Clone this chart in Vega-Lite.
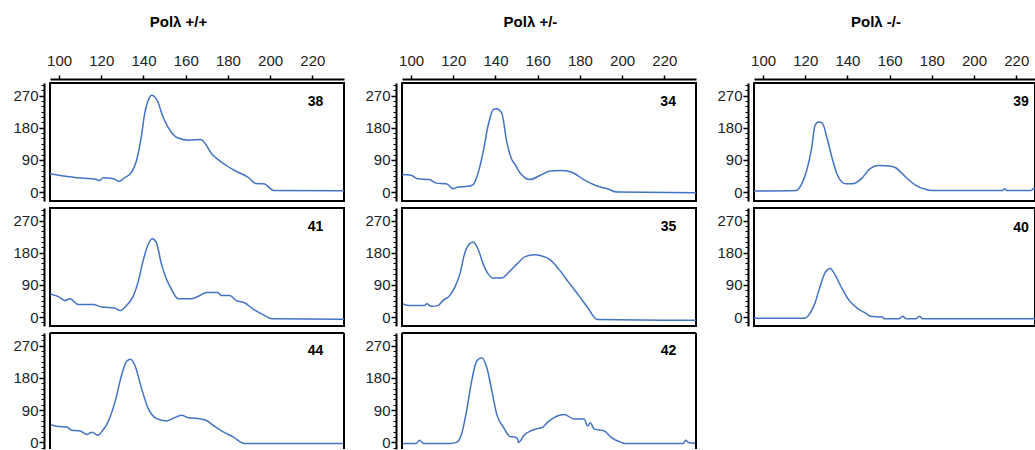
{
  "$schema": "https://vega.github.io/schema/vega-lite/v6.json",
  "padding": {"left": 11, "top": 15, "right": 0, "bottom": 0},
  "background": "white",
  "config": {
    "view": {"stroke": "black", "strokeWidth": 2, "fill": "white"},
    "font": "Liberation Sans",
    "title": {"font": "Liberation Sans", "fontSize": 15, "fontWeight": "bold", "color": "black", "anchor": "middle", "offset": 22}
  },
  "datasets": {
    "curves": [
      {"p":"38","x":95.7,"y":51},{"p":"38","x":100.5,"y":46},{"p":"38","x":108.4,"y":40},{"p":"38","x":117.8,"y":35},{"p":"38","x":119,"y":32},{"p":"38","x":121,"y":40},{"p":"38","x":125.8,"y":37},{"p":"38","x":128.5,"y":30},{"p":"38","x":131,"y":40},{"p":"38","x":134.2,"y":54},{"p":"38","x":136.6,"y":86},{"p":"38","x":138.9,"y":152},{"p":"38","x":140.5,"y":217},{"p":"38","x":142.8,"y":264},{"p":"38","x":143.8,"y":271},{"p":"38","x":145,"y":268},{"p":"38","x":146.7,"y":254},{"p":"38","x":148.8,"y":217},{"p":"38","x":151.4,"y":184},{"p":"38","x":156.1,"y":152},{"p":"38","x":161.6,"y":145},{"p":"38","x":167.1,"y":147},{"p":"38","x":172.6,"y":105},{"p":"38","x":177.3,"y":82},{"p":"38","x":183.6,"y":59},{"p":"38","x":189.9,"y":40},{"p":"38","x":193.1,"y":24},{"p":"38","x":197,"y":23},{"p":"38","x":201.7,"y":4.5},{"p":"38","x":236,"y":4},

      {"p":"41","x":95.9,"y":64.6},{"p":"41","x":99.7,"y":57},{"p":"41","x":102.8,"y":46},{"p":"41","x":105.2,"y":51},{"p":"41","x":109.1,"y":35},{"p":"41","x":116.2,"y":35},{"p":"41","x":120.2,"y":28},{"p":"41","x":126.5,"y":25},{"p":"41","x":128.8,"y":18},{"p":"41","x":131.9,"y":32},{"p":"41","x":135.1,"y":58},{"p":"41","x":137.4,"y":97},{"p":"41","x":139.8,"y":157},{"p":"41","x":142.2,"y":203},{"p":"41","x":144.2,"y":219},{"p":"41","x":146.1,"y":208},{"p":"41","x":148.5,"y":148},{"p":"41","x":150.9,"y":106},{"p":"41","x":153.2,"y":78},{"p":"41","x":156.4,"y":51},{"p":"41","x":162.7,"y":51},{"p":"41","x":166.6,"y":60},{"p":"41","x":169.8,"y":69},{"p":"41","x":175.3,"y":69},{"p":"41","x":176.9,"y":60},{"p":"41","x":180.8,"y":60},{"p":"41","x":184,"y":46},{"p":"41","x":187.9,"y":40},{"p":"41","x":191.8,"y":23},{"p":"41","x":196.6,"y":7},{"p":"41","x":201.3,"y":-5},{"p":"41","x":236,"y":-6},

      {"p":"44","x":95.7,"y":50},{"p":"44","x":99.7,"y":44},{"p":"44","x":103.6,"y":43},{"p":"44","x":106,"y":34},{"p":"44","x":110,"y":32},{"p":"44","x":113.1,"y":22},{"p":"44","x":115.5,"y":28},{"p":"44","x":118.6,"y":20},{"p":"44","x":120.2,"y":30},{"p":"44","x":123.3,"y":58},{"p":"44","x":126.5,"y":113},{"p":"44","x":129.6,"y":187},{"p":"44","x":132,"y":226},{"p":"44","x":133.9,"y":232},{"p":"44","x":135.9,"y":215},{"p":"44","x":139.1,"y":150},{"p":"44","x":142.2,"y":95},{"p":"44","x":146.1,"y":67},{"p":"44","x":150.9,"y":60},{"p":"44","x":154,"y":67},{"p":"44","x":158,"y":76},{"p":"44","x":161.1,"y":69},{"p":"44","x":165,"y":67},{"p":"44","x":168.2,"y":64},{"p":"44","x":170.5,"y":59},{"p":"44","x":172.9,"y":48},{"p":"44","x":177.6,"y":30},{"p":"44","x":182.3,"y":16},{"p":"44","x":187.9,"y":-3},{"p":"44","x":236,"y":-3},

      {"p":"34","x":95.7,"y":49},{"p":"34","x":100,"y":47},{"p":"34","x":103.2,"y":37},{"p":"34","x":108.7,"y":35},{"p":"34","x":111.9,"y":25},{"p":"34","x":116.7,"y":23},{"p":"34","x":119.9,"y":9},{"p":"34","x":122.3,"y":14},{"p":"34","x":127,"y":16},{"p":"34","x":129.4,"y":21},{"p":"34","x":131.8,"y":54},{"p":"34","x":134.2,"y":114},{"p":"34","x":136.6,"y":189},{"p":"34","x":139,"y":231},{"p":"34","x":140.5,"y":233},{"p":"34","x":142.9,"y":222},{"p":"34","x":145.3,"y":142},{"p":"34","x":147.7,"y":91},{"p":"34","x":149.3,"y":77},{"p":"34","x":151.6,"y":54},{"p":"34","x":156.4,"y":35},{"p":"34","x":161.2,"y":47},{"p":"34","x":165.9,"y":59},{"p":"34","x":170.7,"y":60},{"p":"34","x":175.5,"y":57},{"p":"34","x":181.8,"y":35},{"p":"34","x":188.2,"y":17},{"p":"34","x":193,"y":9},{"p":"34","x":197.7,"y":0},{"p":"34","x":236,"y":-2},

      {"p":"35","x":96,"y":37},{"p":"35","x":99.2,"y":32},{"p":"35","x":106.3,"y":32},{"p":"35","x":107.5,"y":37},{"p":"35","x":109.5,"y":30},{"p":"35","x":112.7,"y":32},{"p":"35","x":115.1,"y":46},{"p":"35","x":118.3,"y":60},{"p":"35","x":120.7,"y":83},{"p":"35","x":123.1,"y":120},{"p":"35","x":125.5,"y":180},{"p":"35","x":127.9,"y":206},{"p":"35","x":129.5,"y":210},{"p":"35","x":131.8,"y":189},{"p":"35","x":134.2,"y":148},{"p":"35","x":136.6,"y":120},{"p":"35","x":139,"y":109},{"p":"35","x":143,"y":109},{"p":"35","x":146.2,"y":125},{"p":"35","x":150.1,"y":148},{"p":"35","x":154.1,"y":169},{"p":"35","x":158.1,"y":174},{"p":"35","x":162,"y":171},{"p":"35","x":166,"y":160},{"p":"35","x":170,"y":134},{"p":"35","x":174.7,"y":97},{"p":"35","x":179.5,"y":60},{"p":"35","x":183.5,"y":28},{"p":"35","x":188.2,"y":-7},{"p":"35","x":236,"y":-9},

      {"p":"42","x":96,"y":-3},{"p":"42","x":102.4,"y":-3},{"p":"42","x":104,"y":6},{"p":"42","x":105.9,"y":-3},{"p":"42","x":118.3,"y":-3},{"p":"42","x":121.5,"y":0},{"p":"42","x":123.9,"y":23},{"p":"42","x":126.3,"y":88},{"p":"42","x":128.7,"y":171},{"p":"42","x":131.1,"y":227},{"p":"42","x":133.5,"y":236},{"p":"42","x":135.9,"y":208},{"p":"42","x":138.3,"y":143},{"p":"42","x":140.6,"y":78},{"p":"42","x":143.8,"y":42},{"p":"42","x":147,"y":16},{"p":"42","x":148.6,"y":16},{"p":"42","x":150.2,"y":12},{"p":"42","x":151,"y":0},{"p":"42","x":153.4,"y":19},{"p":"42","x":156.6,"y":32},{"p":"42","x":159,"y":37},{"p":"42","x":162.2,"y":42},{"p":"42","x":164.5,"y":55},{"p":"42","x":167.7,"y":69},{"p":"42","x":172.5,"y":78},{"p":"42","x":177.3,"y":65},{"p":"42","x":182,"y":65},{"p":"42","x":183.6,"y":46},{"p":"42","x":184.9,"y":55},{"p":"42","x":186.8,"y":37},{"p":"42","x":191.6,"y":32},{"p":"42","x":194.8,"y":14},{"p":"42","x":199.5,"y":0},{"p":"42","x":201.1,"y":-3},{"p":"42","x":229,"y":-3},{"p":"42","x":230.1,"y":6},{"p":"42","x":231.4,"y":0},{"p":"42","x":236,"y":-3},

      {"p":"39","x":95.7,"y":3},{"p":"39","x":115.9,"y":4.6},{"p":"39","x":118.3,"y":23},{"p":"39","x":120.7,"y":61},{"p":"39","x":123.1,"y":126},{"p":"39","x":124.6,"y":186},{"p":"39","x":126.2,"y":196},{"p":"39","x":128.1,"y":193},{"p":"39","x":130.2,"y":154},{"p":"39","x":132.6,"y":98},{"p":"39","x":135,"y":51},{"p":"39","x":139,"y":23},{"p":"39","x":142.1,"y":23},{"p":"39","x":146.9,"y":39},{"p":"39","x":150.1,"y":62},{"p":"39","x":154.9,"y":74},{"p":"39","x":159.7,"y":73},{"p":"39","x":162.8,"y":68},{"p":"39","x":167.6,"y":42},{"p":"39","x":172.4,"y":19},{"p":"39","x":177.2,"y":7.4},{"p":"39","x":180.4,"y":4.6},{"p":"39","x":213.6,"y":4.6},{"p":"39","x":214.4,"y":9},{"p":"39","x":215.6,"y":4.6},{"p":"39","x":227.2,"y":4.6},{"p":"39","x":228,"y":9},{"p":"39","x":230.4,"y":3},

      {"p":"40","x":95.7,"y":-3},{"p":"40","x":119.9,"y":-3},{"p":"40","x":122.3,"y":11},{"p":"40","x":124.6,"y":39},{"p":"40","x":127,"y":85},{"p":"40","x":129.4,"y":124},{"p":"40","x":131.8,"y":136},{"p":"40","x":134.2,"y":117},{"p":"40","x":137.4,"y":80},{"p":"40","x":140.6,"y":48},{"p":"40","x":144.6,"y":25},{"p":"40","x":148.6,"y":11},{"p":"40","x":151,"y":2},{"p":"40","x":156.6,"y":0},{"p":"40","x":157.4,"y":-5},{"p":"40","x":164.5,"y":-5},{"p":"40","x":166.1,"y":2},{"p":"40","x":168,"y":-5},{"p":"40","x":172.5,"y":-5},{"p":"40","x":174.1,"y":2},{"p":"40","x":175.7,"y":-5},{"p":"40","x":230.5,"y":-5}
    ]
  },
  "spacing": 18,
  "hconcat": [
    {
      "title": {"text": "Polλ +/+"},
      "spacing": 5,
      "vconcat": [
        {
          "width": 294, "height": 118,
          "data": {"name": "curves"},
          "transform": [{"filter": "datum.p == '38'"}],
          "resolve": {"axis": {"y": "independent", "x": "independent"}},
          "layer": [
            {"mark": {"type": "line", "color": "#4472c4", "strokeWidth": 1.5, "clip": true, "interpolate": "monotone"},
             "encoding": {
               "x": {"field": "x", "type": "quantitative", "scale": {"domain": [95.7, 235], "nice": false, "zero": false},
                     "axis": {"orient": "top", "values": [100,120,140,160,180,200,220], "tickSize": 4, "tickWidth": 1.5, "tickColor": "black", "domainColor": "black", "domainWidth": 2, "offset": 4, "labelPadding": 7, "labelFontSize": 15, "labelFont": "Liberation Sans", "labelColor": "#222", "title": null, "grid": false, "labelFlush": false, "labelOverlap": false}},
               "y": {"field": "y", "type": "quantitative", "scale": {"domain": [-25, 305], "nice": false, "zero": false},
                     "axis": {"orient": "left", "values": [0,90,180,270], "tickSize": 5, "tickWidth": 1.5, "tickColor": "black", "domainColor": "black", "domainWidth": 2, "offset": 6, "labelPadding": 1, "labelFontSize": 15, "labelFont": "Liberation Sans", "labelColor": "#222", "title": null, "grid": false}}
             }},
            {"data": {"values": [{"n": "38"}]},
             "mark": {"type": "text", "fontSize": 14, "fontWeight": "bold", "font": "Liberation Sans", "color": "black", "baseline": "middle"},
             "encoding": {
               "text": {"field": "n"},
               "x": {"datum": 221.5, "type": "quantitative", "axis": null},
               "y": {"datum": 252, "type": "quantitative",
                     "axis": {"orient": "left", "values": [-15,15,30,45,60,75,105,120,135,150,165,195,210,225,240,255,285,300], "tickSize": 3, "tickWidth": 1, "tickColor": "black", "domain": false, "labels": false, "offset": 6, "title": null, "grid": false}}
             }}
          ]
        },
        {
          "width": 294, "height": 118,
          "data": {"name": "curves"},
          "transform": [{"filter": "datum.p == '41'"}],
          "resolve": {"axis": {"y": "independent"}},
          "layer": [
            {"mark": {"type": "line", "color": "#4472c4", "strokeWidth": 1.5, "clip": true, "interpolate": "monotone"},
             "encoding": {
               "x": {"field": "x", "type": "quantitative", "scale": {"domain": [95.7, 235], "nice": false, "zero": false}, "axis": null},
               "y": {"field": "y", "type": "quantitative", "scale": {"domain": [-25, 305], "nice": false, "zero": false},
                     "axis": {"orient": "left", "values": [0,90,180,270], "tickSize": 5, "tickWidth": 1.5, "tickColor": "black", "domainColor": "black", "domainWidth": 2, "offset": 6, "labelPadding": 1, "labelFontSize": 15, "labelFont": "Liberation Sans", "labelColor": "#222", "title": null, "grid": false}}
             }},
            {"data": {"values": [{"n": "41"}]},
             "mark": {"type": "text", "fontSize": 14, "fontWeight": "bold", "font": "Liberation Sans", "color": "black", "baseline": "middle"},
             "encoding": {
               "text": {"field": "n"},
               "x": {"datum": 221.5, "type": "quantitative", "axis": null},
               "y": {"datum": 252, "type": "quantitative",
                     "axis": {"orient": "left", "values": [-15,15,30,45,60,75,105,120,135,150,165,195,210,225,240,255,285,300], "tickSize": 3, "tickWidth": 1, "tickColor": "black", "domain": false, "labels": false, "offset": 6, "title": null, "grid": false}}
             }}
          ]
        },
        {
          "width": 294, "height": 116,
          "view": {"stroke": null},
          "data": {"name": "curves"},
          "transform": [{"filter": "datum.p == '44'"}],
          "resolve": {"axis": {"y": "independent"}},
          "layer": [
            {"mark": {"type": "line", "color": "#4472c4", "strokeWidth": 1.5, "clip": true, "interpolate": "monotone"},
             "encoding": {
               "x": {"field": "x", "type": "quantitative", "scale": {"domain": [95.7, 235], "nice": false, "zero": false}, "axis": null},
               "y": {"field": "y", "type": "quantitative", "scale": {"domain": [-18.4, 305], "nice": false, "zero": false},
                     "axis": {"orient": "left", "values": [0,90,180,270], "tickSize": 5, "tickWidth": 1.5, "tickColor": "black", "domainColor": "black", "domainWidth": 2, "offset": 6, "labelPadding": 1, "labelFontSize": 15, "labelFont": "Liberation Sans", "labelColor": "#222", "title": null, "grid": false}}
             }},
            {"data": {"values": [{"n": "44"}]},
             "mark": {"type": "text", "fontSize": 14, "fontWeight": "bold", "font": "Liberation Sans", "color": "black", "baseline": "middle"},
             "encoding": {
               "text": {"field": "n"},
               "x": {"datum": 221.5, "type": "quantitative", "axis": null},
               "y": {"datum": 254, "type": "quantitative",
                     "axis": {"orient": "left", "values": [-15,15,30,45,60,75,105,120,135,150,165,195,210,225,240,255,285,300], "tickSize": 3, "tickWidth": 1, "tickColor": "black", "domain": false, "labels": false, "offset": 6, "title": null, "grid": false}}
             }},
            {"data": {"values": [{"e": "left"}]},
             "mark": {"type": "rule", "color": "black", "strokeWidth": 2},
             "encoding": {"x": {"datum": 95.7, "type": "quantitative", "axis": null}}},
            {"data": {"values": [{"e": "right"}]},
             "mark": {"type": "rule", "color": "black", "strokeWidth": 2},
             "encoding": {"x": {"datum": 235, "type": "quantitative", "axis": null}}},
            {"data": {"values": [{"e": "top"}]},
             "mark": {"type": "rule", "color": "black", "strokeWidth": 2},
             "encoding": {"y": {"datum": 305, "type": "quantitative", "axis": null}}}
          ]
        }
      ]
    },
    {
      "title": {"text": "Polλ +/-"},
      "spacing": 5,
      "vconcat": [
        {
          "width": 294, "height": 118,
          "data": {"name": "curves"},
          "transform": [{"filter": "datum.p == '34'"}],
          "resolve": {"axis": {"y": "independent", "x": "independent"}},
          "layer": [
            {"mark": {"type": "line", "color": "#4472c4", "strokeWidth": 1.5, "clip": true, "interpolate": "monotone"},
             "encoding": {
               "x": {"field": "x", "type": "quantitative", "scale": {"domain": [95.7, 235], "nice": false, "zero": false},
                     "axis": {"orient": "top", "values": [100,120,140,160,180,200,220], "tickSize": 4, "tickWidth": 1.5, "tickColor": "black", "domainColor": "black", "domainWidth": 2, "offset": 4, "labelPadding": 7, "labelFontSize": 15, "labelFont": "Liberation Sans", "labelColor": "#222", "title": null, "grid": false, "labelFlush": false, "labelOverlap": false}},
               "y": {"field": "y", "type": "quantitative", "scale": {"domain": [-25, 305], "nice": false, "zero": false},
                     "axis": {"orient": "left", "values": [0,90,180,270], "tickSize": 5, "tickWidth": 1.5, "tickColor": "black", "domainColor": "black", "domainWidth": 2, "offset": 6, "labelPadding": 1, "labelFontSize": 15, "labelFont": "Liberation Sans", "labelColor": "#222", "title": null, "grid": false}}
             }},
            {"data": {"values": [{"n": "34"}]},
             "mark": {"type": "text", "fontSize": 14, "fontWeight": "bold", "font": "Liberation Sans", "color": "black", "baseline": "middle"},
             "encoding": {
               "text": {"field": "n"},
               "x": {"datum": 221.8, "type": "quantitative", "axis": null},
               "y": {"datum": 252, "type": "quantitative",
                     "axis": {"orient": "left", "values": [-15,15,30,45,60,75,105,120,135,150,165,195,210,225,240,255,285,300], "tickSize": 3, "tickWidth": 1, "tickColor": "black", "domain": false, "labels": false, "offset": 6, "title": null, "grid": false}}
             }}
          ]
        },
        {
          "width": 294, "height": 118,
          "data": {"name": "curves"},
          "transform": [{"filter": "datum.p == '35'"}],
          "resolve": {"axis": {"y": "independent"}},
          "layer": [
            {"mark": {"type": "line", "color": "#4472c4", "strokeWidth": 1.5, "clip": true, "interpolate": "monotone"},
             "encoding": {
               "x": {"field": "x", "type": "quantitative", "scale": {"domain": [95.7, 235], "nice": false, "zero": false}, "axis": null},
               "y": {"field": "y", "type": "quantitative", "scale": {"domain": [-25, 305], "nice": false, "zero": false},
                     "axis": {"orient": "left", "values": [0,90,180,270], "tickSize": 5, "tickWidth": 1.5, "tickColor": "black", "domainColor": "black", "domainWidth": 2, "offset": 6, "labelPadding": 1, "labelFontSize": 15, "labelFont": "Liberation Sans", "labelColor": "#222", "title": null, "grid": false}}
             }},
            {"data": {"values": [{"n": "35"}]},
             "mark": {"type": "text", "fontSize": 14, "fontWeight": "bold", "font": "Liberation Sans", "color": "black", "baseline": "middle"},
             "encoding": {
               "text": {"field": "n"},
               "x": {"datum": 222, "type": "quantitative", "axis": null},
               "y": {"datum": 252, "type": "quantitative",
                     "axis": {"orient": "left", "values": [-15,15,30,45,60,75,105,120,135,150,165,195,210,225,240,255,285,300], "tickSize": 3, "tickWidth": 1, "tickColor": "black", "domain": false, "labels": false, "offset": 6, "title": null, "grid": false}}
             }}
          ]
        },
        {
          "width": 294, "height": 116,
          "view": {"stroke": null},
          "data": {"name": "curves"},
          "transform": [{"filter": "datum.p == '42'"}],
          "resolve": {"axis": {"y": "independent"}},
          "layer": [
            {"mark": {"type": "line", "color": "#4472c4", "strokeWidth": 1.5, "clip": true, "interpolate": "monotone"},
             "encoding": {
               "x": {"field": "x", "type": "quantitative", "scale": {"domain": [95.7, 235], "nice": false, "zero": false}, "axis": null},
               "y": {"field": "y", "type": "quantitative", "scale": {"domain": [-18.4, 305], "nice": false, "zero": false},
                     "axis": {"orient": "left", "values": [0,90,180,270], "tickSize": 5, "tickWidth": 1.5, "tickColor": "black", "domainColor": "black", "domainWidth": 2, "offset": 6, "labelPadding": 1, "labelFontSize": 15, "labelFont": "Liberation Sans", "labelColor": "#222", "title": null, "grid": false}}
             }},
            {"data": {"values": [{"n": "42"}]},
             "mark": {"type": "text", "fontSize": 14, "fontWeight": "bold", "font": "Liberation Sans", "color": "black", "baseline": "middle"},
             "encoding": {
               "text": {"field": "n"},
               "x": {"datum": 222, "type": "quantitative", "axis": null},
               "y": {"datum": 254, "type": "quantitative",
                     "axis": {"orient": "left", "values": [-15,15,30,45,60,75,105,120,135,150,165,195,210,225,240,255,285,300], "tickSize": 3, "tickWidth": 1, "tickColor": "black", "domain": false, "labels": false, "offset": 6, "title": null, "grid": false}}
             }},
            {"data": {"values": [{"e": "left"}]},
             "mark": {"type": "rule", "color": "black", "strokeWidth": 2},
             "encoding": {"x": {"datum": 95.7, "type": "quantitative", "axis": null}}},
            {"data": {"values": [{"e": "right"}]},
             "mark": {"type": "rule", "color": "black", "strokeWidth": 2},
             "encoding": {"x": {"datum": 235, "type": "quantitative", "axis": null}}},
            {"data": {"values": [{"e": "top"}]},
             "mark": {"type": "rule", "color": "black", "strokeWidth": 2},
             "encoding": {"y": {"datum": 305, "type": "quantitative", "axis": null}}}
          ]
        }
      ]
    },
    {
      "title": {"text": "Polλ -/-"},
      "spacing": 5,
      "vconcat": [
        {
          "width": 281, "height": 118,
          "data": {"name": "curves"},
          "transform": [{"filter": "datum.p == '39'"}],
          "resolve": {"axis": {"y": "independent", "x": "independent"}},
          "layer": [
            {"mark": {"type": "line", "color": "#4472c4", "strokeWidth": 1.5, "clip": true, "interpolate": "monotone"},
             "encoding": {
               "x": {"field": "x", "type": "quantitative", "scale": {"domain": [95.7, 228.9], "nice": false, "zero": false},
                     "axis": {"orient": "top", "values": [100,120,140,160,180,200,220], "tickSize": 4, "tickWidth": 1.5, "tickColor": "black", "domainColor": "black", "domainWidth": 2, "offset": 4, "labelPadding": 7, "labelFontSize": 15, "labelFont": "Liberation Sans", "labelColor": "#222", "title": null, "grid": false, "labelFlush": false, "labelOverlap": false}},
               "y": {"field": "y", "type": "quantitative", "scale": {"domain": [-25, 305], "nice": false, "zero": false},
                     "axis": {"orient": "left", "values": [0,90,180,270], "tickSize": 5, "tickWidth": 1.5, "tickColor": "black", "domainColor": "black", "domainWidth": 2, "offset": 6, "labelPadding": 1, "labelFontSize": 15, "labelFont": "Liberation Sans", "labelColor": "#222", "title": null, "grid": false}}
             }},
            {"data": {"values": [{"n": "39"}]},
             "mark": {"type": "text", "fontSize": 14, "fontWeight": "bold", "font": "Liberation Sans", "color": "black", "baseline": "middle"},
             "encoding": {
               "text": {"field": "n"},
               "x": {"datum": 222.3, "type": "quantitative", "axis": null},
               "y": {"datum": 251, "type": "quantitative",
                     "axis": {"orient": "left", "values": [-15,15,30,45,60,75,105,120,135,150,165,195,210,225,240,255,285,300], "tickSize": 3, "tickWidth": 1, "tickColor": "black", "domain": false, "labels": false, "offset": 6, "title": null, "grid": false}}
             }}
          ]
        },
        {
          "width": 281, "height": 118,
          "data": {"name": "curves"},
          "transform": [{"filter": "datum.p == '40'"}],
          "resolve": {"axis": {"y": "independent"}},
          "layer": [
            {"mark": {"type": "line", "color": "#4472c4", "strokeWidth": 1.5, "clip": true, "interpolate": "monotone"},
             "encoding": {
               "x": {"field": "x", "type": "quantitative", "scale": {"domain": [95.7, 228.9], "nice": false, "zero": false}, "axis": null},
               "y": {"field": "y", "type": "quantitative", "scale": {"domain": [-25, 305], "nice": false, "zero": false},
                     "axis": {"orient": "left", "values": [0,90,180,270], "tickSize": 5, "tickWidth": 1.5, "tickColor": "black", "domainColor": "black", "domainWidth": 2, "offset": 6, "labelPadding": 1, "labelFontSize": 15, "labelFont": "Liberation Sans", "labelColor": "#222", "title": null, "grid": false}}
             }},
            {"data": {"values": [{"n": "40"}]},
             "mark": {"type": "text", "fontSize": 14, "fontWeight": "bold", "font": "Liberation Sans", "color": "black", "baseline": "middle"},
             "encoding": {
               "text": {"field": "n"},
               "x": {"datum": 222.3, "type": "quantitative", "axis": null},
               "y": {"datum": 250, "type": "quantitative",
                     "axis": {"orient": "left", "values": [-15,15,30,45,60,75,105,120,135,150,165,195,210,225,240,255,285,300], "tickSize": 3, "tickWidth": 1, "tickColor": "black", "domain": false, "labels": false, "offset": 6, "title": null, "grid": false}}
             }}
          ]
        }
      ]
    }
  ]
}
